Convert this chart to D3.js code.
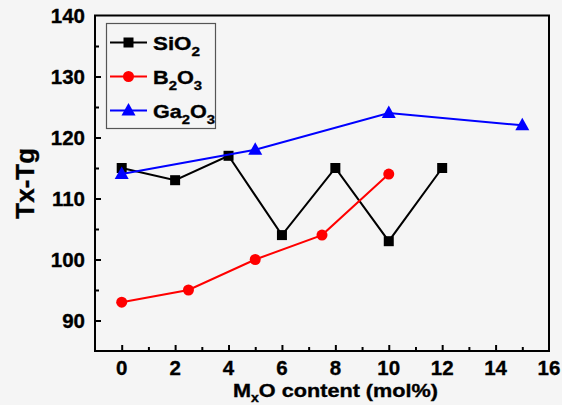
<!DOCTYPE html>
<html>
<head>
<meta charset="utf-8">
<script src="https://cdn.jsdelivr.net/npm/d3@7"></script>
<style>
  html, body { margin: 0; padding: 0; background: #f5f5f5; }
  svg { display: block; font-family: "Liberation Sans", Arial, sans-serif; font-weight: bold; }
  text { stroke: currentColor; stroke-width: 0.35px; fill: #000; color: #000; }
</style>
</head>
<body>
<svg id="chart"></svg>
<script>
const sio2X = [0, 2, 4, 6, 8, 10, 12];
const sio2Y = [115, 113, 117, 104, 115, 103, 115];
const b2o3X = [0, 2.5, 5, 7.5, 10];
const b2o3Y = [93, 95, 100, 104, 114];
const ga2o3X = [0, 5, 10, 15];
const ga2o3Y = [114, 118, 124, 122];
const xTicks = [0, 2, 4, 6, 8, 10, 12, 14, 16];
const yTicks = [90, 100, 110, 120, 130, 140];

const width = 562, height = 405;
const svg = d3.select("#chart").attr("width", width).attr("height", height);

const x = d3.scaleLinear().domain([-1, 16]).range([95, 549]);
const y = d3.scaleLinear().domain([85, 140]).range([351, 15.5]);

const series = [
  { parts: ["SiO", "2"], xs: sio2X, ys: sio2Y, color: "#000000", shape: "square", len: 47 },
  { parts: ["B", "2", "O", "3"], xs: b2o3X, ys: b2o3Y, color: "#ff0000", shape: "circle", len: 49 },
  { parts: ["Ga", "2", "O", "3"], xs: ga2o3X, ys: ga2o3Y, color: "#0000ff", shape: "triangle", len: 62 }
];

// frame
svg.append("rect")
  .attr("x", x(-1)).attr("y", y(140))
  .attr("width", x(16) - x(-1)).attr("height", y(85) - y(140))
  .attr("fill", "none").attr("stroke", "#000").attr("stroke-width", 2);

// axes, ticks pointing inward
const xAxis = svg.append("g").attr("transform", `translate(0,${y(85)})`)
  .call(d3.axisBottom(x).tickValues(d3.range(0, 16, 1)).tickSize(-4).tickFormat(""));
xAxis.selectAll(".tick line").attr("stroke-width", 2)
  .filter(d => d % 2 === 0).attr("y2", -6);
xAxis.select(".domain").remove();

svg.append("g").selectAll("text").data(xTicks).join("text")
  .attr("x", d => x(d)).attr("y", y(85) + 24)
  .attr("text-anchor", "middle").attr("font-size", 20.5)
  .text(d => d);

const yAxis = svg.append("g").attr("transform", `translate(${x(-1)},0)`)
  .call(d3.axisLeft(y).tickValues(d3.range(90, 140, 5)).tickSize(-4).tickFormat(""));
yAxis.selectAll(".tick line").attr("stroke-width", 2)
  .filter(d => d % 10 === 0).attr("x2", 6);
yAxis.select(".domain").remove();

svg.append("g").selectAll("text").data(yTicks).join("text")
  .attr("x", x(-1) - 10).attr("y", d => y(d) + 7)
  .attr("text-anchor", "end").attr("font-size", 20.5)
  .text(d => d);

// axis titles
const xt = svg.append("text").attr("x", 233).attr("y", 397)
  .attr("font-size", 18.5).attr("textLength", 205).attr("lengthAdjust", "spacingAndGlyphs");
xt.append("tspan").text("M");
xt.append("tspan").attr("font-size", 12).attr("dy", 5).text("x");
xt.append("tspan").attr("dy", -5).text("O content (mol%)");

svg.append("text")
  .attr("transform", `translate(34,${(y(85) + y(140)) / 2}) rotate(-90)`)
  .attr("text-anchor", "middle").attr("font-size", 26)
  .text("Tx-Tg");

function marker(g, shape, color, cx, cy) {
  if (shape === "square") {
    g.append("rect").attr("x", cx - 5).attr("y", cy - 5).attr("width", 10).attr("height", 10).attr("fill", color);
  } else if (shape === "circle") {
    g.append("circle").attr("cx", cx).attr("cy", cy).attr("r", 5.5).attr("fill", color);
  } else {
    g.append("path").attr("d", `M${cx},${cy - 7.5}L${cx + 7},${cy + 5}L${cx - 7},${cy + 5}Z`).attr("fill", color);
  }
}

const line = d3.line().x(d => x(d[0])).y(d => y(d[1]));
series.forEach(s => {
  const pts = s.xs.map((v, i) => [v, s.ys[i]]);
  const g = svg.append("g");
  g.append("path").attr("d", line(pts)).attr("fill", "none")
    .attr("stroke", s.color).attr("stroke-width", 2);
  pts.forEach(p => marker(g, s.shape, s.color, x(p[0]), y(p[1])));
});

// legend
const legend = svg.append("g");
legend.append("rect").attr("x", 106.5).attr("y", 23.5).attr("width", 109).attr("height", 105)
  .attr("fill", "none").attr("stroke", "#555").attr("stroke-width", 1.2);
series.forEach((s, i) => {
  const ly = 42.5 + i * 34;
  legend.append("line").attr("x1", 110).attr("x2", 147).attr("y1", ly).attr("y2", ly)
    .attr("stroke", s.color).attr("stroke-width", 2);
  marker(legend, s.shape, s.color, 128.5, ly);
  const t = legend.append("text").attr("x", 153).attr("y", ly + 7).attr("font-size", 19)
    .attr("textLength", s.len).attr("lengthAdjust", "spacingAndGlyphs");
  s.parts.forEach((p, j) => {
    const isSub = j % 2 === 1;
    t.append("tspan").attr("font-size", isSub ? 13 : 19)
      .attr("dy", j === 0 ? 0 : (isSub ? 6 : -6)).text(p);
  });
});
</script>
</body>
</html>
